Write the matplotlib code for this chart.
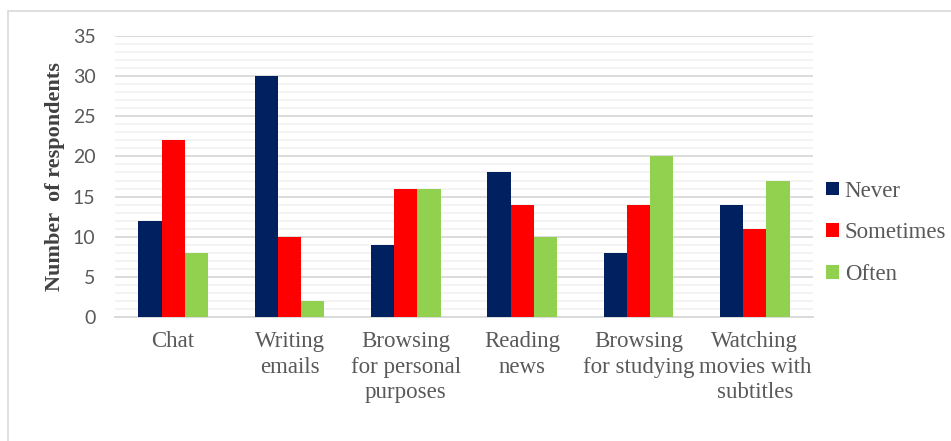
import numpy as np
import matplotlib
matplotlib.use("Agg")
import matplotlib.pyplot as plt
from matplotlib.patches import Rectangle
from matplotlib.ticker import MultipleLocator

categories = ["Chat", "Writing\nemails", "Browsing\nfor personal\npurposes",
              "Reading\nnews", "Browsing\nfor studying", "Watching\nmovies with\nsubtitles"]
never = [12, 30, 9, 18, 8, 14]
sometimes = [22, 10, 16, 14, 14, 11]
often = [8, 2, 16, 10, 20, 17]
series_names = ["Never", "Sometimes", "Often"]
colors = ["#002060", "#FF0000", "#92D050"]

fig = plt.figure(figsize=(9.51, 4.41), dpi=100)

# outer chart border (open on right/bottom as in the reference)
fig.patches.append(Rectangle((8 / 951, -0.1), 1.2, 1.1 - 11 / 441,
                             transform=fig.transFigure, fill=False,
                             edgecolor="#D9D9D9", linewidth=1.2))

ax = fig.add_axes([115 / 951, 1 - 317 / 441, (813 - 115) / 951, (317 - 36) / 441])

x = np.arange(len(categories))
w = 0.2
for i, (vals, name, c) in enumerate(zip([never, sometimes, often], series_names, colors)):
    ax.bar(x + (i - 1) * w, vals, width=w, color=c, label=name, zorder=3)

ax.set_xlim(-0.5, len(categories) - 0.5)
ax.set_ylim(0, 35)
ax.yaxis.set_major_locator(MultipleLocator(5))
ax.yaxis.set_minor_locator(MultipleLocator(1))
ax.grid(which="major", axis="y", color="#D9D9D9", linewidth=1.3, zorder=1)
ax.grid(which="minor", axis="y", color="#F2F2F2", linewidth=1.3, zorder=0)
for s in ["top", "right", "left"]:
    ax.spines[s].set_visible(False)
ax.spines["bottom"].set_color("#D9D9D9")
ax.spines["bottom"].set_linewidth(1.3)
ax.tick_params(axis="both", which="both", length=0)
ax.tick_params(axis="y", pad=14)
ax.tick_params(axis="x", pad=10)

ax.set_xticks(x)
ax.set_xticklabels(categories, fontfamily="Liberation Serif", fontsize=16.5,
                   color="#595959", linespacing=1.3)
for lab in ax.get_yticklabels():
    lab.set_fontfamily("Lato")
    lab.set_fontsize(14)
    lab.set_color("#595959")

ax.set_ylabel("Number  of respondents", fontfamily="Liberation Serif", fontsize=16,
              fontweight="bold", color="#404040")
ax.yaxis.set_label_coords(-0.071, 0.5)

leg = ax.legend(loc="center left", bbox_to_anchor=(1.006, 0.30), frameon=False,
                prop={"family": "Liberation Serif", "size": 16.5},
                handlelength=0.55, handleheight=0.55, handletextpad=0.25,
                labelspacing=0.9, borderaxespad=0)
for t in leg.get_texts():
    t.set_color("#595959")

fig.savefig("out.png", dpi=100)
